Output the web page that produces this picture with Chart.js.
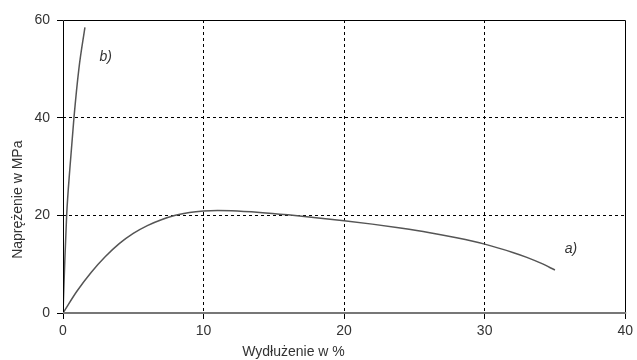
<!doctype html>
<html lang="pl">
<head>
    <meta charset="utf-8">
    <title>Naprężenie - wydłużenie</title>
    <script src="https://cdn.jsdelivr.net/npm/chart.js@4.4.0/dist/chart.umd.min.js"></script>
    <style>
        html, body { margin: 0; padding: 0; background: #fff; }
        #wrap { width: 637px; height: 360px; }
    </style>
</head>
<body>
<div id="wrap"><canvas id="chart"></canvas></div>
<script>
    // krzywa a)
    let aStrain = [0, 1, 2, 3, 4, 5, 6, 7, 8, 9, 10, 11, 12, 14, 16, 18, 20, 22, 24, 26, 28, 30, 32, 33, 34, 35];
    let aStress = [0, 4.5, 8.3, 11.5, 14.2, 16.3, 17.9, 19.1, 20.0, 20.6, 20.9, 21.0, 20.95, 20.6, 20.1, 19.5, 18.9, 18.2, 17.4, 16.5, 15.4, 14.1, 12.4, 11.4, 10.2, 8.8];
    // krzywa b)
    let bStrain = [0, 0.12, 0.26, 0.5, 0.78, 1.13, 1.56];
    let bStress = [0, 10, 20, 30, 40, 50, 58.5];

    let xTicks = [0, 10, 20, 30, 40];
    let yTicks = [0, 20, 40, 60];
    let curveLabels = ['a)', 'b)'];
    let curveLabelAt = [[35.7, 13.1], [2.6, 52.4]];

    function toPoints(xs, ys) {
        return xs.map(function (x, i) { return {x: x, y: ys[i]}; });
    }

    const edgeColor = function (max) {
        return function (ctx) {
            if (!ctx.tick) return '#000';
            return (ctx.tick.value === 0 || ctx.tick.value === max) ? 'rgba(0,0,0,0)' : '#000';
        };
    };

    // ramka, tytuly osi i opisy krzywych
    const extras = {
        id: 'extras',
        afterDraw: function (chart) {
            const c = chart.ctx;
            const a = chart.chartArea;
            const xs = chart.scales.x, ys = chart.scales.y;
            c.save();
            c.strokeStyle = '#000';
            c.lineWidth = 1;
            c.beginPath();
            c.moveTo(Math.round(a.left) + 0.5, Math.round(a.bottom));
            c.lineTo(Math.round(a.left) + 0.5, Math.round(a.top) + 0.5);
            c.lineTo(Math.round(a.right) + 0.5, Math.round(a.top) + 0.5);
            c.lineTo(Math.round(a.right) + 0.5, Math.round(a.bottom));
            c.stroke();
            c.strokeStyle = '#777';
            c.lineWidth = 2;
            c.beginPath();
            c.moveTo(a.left, Math.round(a.bottom));
            c.lineTo(a.right + 1, Math.round(a.bottom));
            c.stroke();

            c.fillStyle = '#333';
            c.font = 'italic 14px "Liberation Sans", Arial, sans-serif';
            c.textAlign = 'left';
            c.textBaseline = 'middle';
            curveLabels.forEach(function (t, i) {
                c.fillText(t, xs.getPixelForValue(curveLabelAt[i][0]), ys.getPixelForValue(curveLabelAt[i][1]));
            });

            c.font = '14px "Liberation Sans", Arial, sans-serif';
            c.textAlign = 'center';
            c.textBaseline = 'middle';
            c.fillText('Wydłużenie w %', xs.getPixelForValue(16.4), 352);
            c.translate(18, ys.getPixelForValue(23.2));
            c.rotate(-Math.PI / 2);
            c.fillText('Naprężenie w MPa', 0, 0);
            c.restore();
        }
    };

    new Chart(document.getElementById('chart'), {
        type: 'scatter',
        data: {
            datasets: [{
                label: 'a)',
                data: toPoints(aStrain, aStress),
                showLine: true,
                borderColor: '#555',
                borderWidth: 1.5,
                pointRadius: 0,
                cubicInterpolationMode: 'monotone'
            }, {
                label: 'b)',
                data: toPoints(bStrain, bStress),
                showLine: true,
                borderColor: '#555',
                borderWidth: 1.5,
                pointRadius: 0,
                cubicInterpolationMode: 'monotone'
            }]
        },
        options: {
            responsive: true,
            maintainAspectRatio: false,
            animation: false,
            layout: {padding: {left: 0, right: 9, top: 20, bottom: 0}},
            plugins: {legend: {display: false}, tooltip: {enabled: false}},
            scales: {
                x: {
                    type: 'linear',
                    min: 0, max: 40,
                    afterBuildTicks: function (s) { s.ticks = xTicks.map(function (v) { return {value: v}; }); },
                    afterFit: function (s) { s.height = 47; },
                    grid: {color: edgeColor(40), tickColor: '#000', tickLength: 6, lineWidth: 1},
                    border: {display: false, dash: [3, 3]},
                    ticks: {color: '#333', padding: 4, maxRotation: 0, font: {size: 14, family: '"Liberation Sans", Arial, sans-serif'}}
                },
                y: {
                    type: 'linear',
                    min: 0, max: 60,
                    afterBuildTicks: function (s) { s.ticks = yTicks.map(function (v) { return {value: v}; }); },
                    afterFit: function (s) { s.width = 63; },
                    grid: {color: edgeColor(60), tickColor: '#000', tickLength: 6, lineWidth: 1},
                    border: {display: false, dash: [3, 3]},
                    ticks: {color: '#333', padding: 7, font: {size: 14, family: '"Liberation Sans", Arial, sans-serif'}}
                }
            }
        },
        plugins: [extras]
    });
</script>
</body>
</html>
